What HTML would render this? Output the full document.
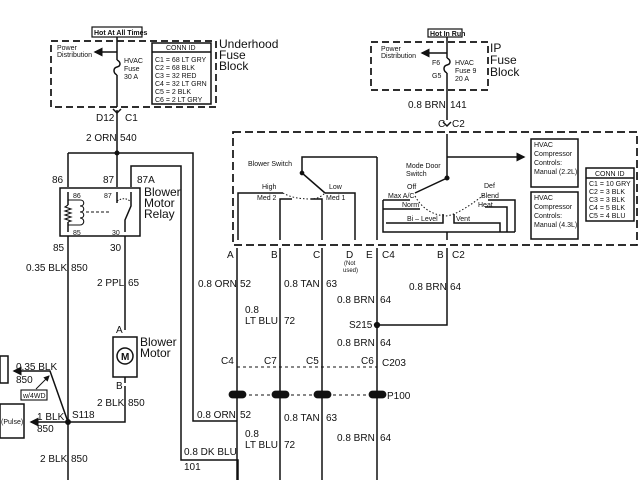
<!DOCTYPE html>
<html><head><meta charset="utf-8"><style>
html,body{margin:0;padding:0;background:#fff;}
svg{display:block;}
text{font-family:"Liberation Sans",sans-serif;fill:#111;}
.s{font-size:7px;}
.m{font-size:10px;}
.l{font-size:12px;}
</style></head><body>
<svg width="640" height="480" viewBox="0 0 640 480" xmlns="http://www.w3.org/2000/svg">
<defs>
<marker id="ar" markerWidth="6" markerHeight="6" refX="5" refY="3" orient="auto"><path d="M0,0 L6,3 L0,6 z" fill="#111"/></marker>
</defs>
<g stroke="#111" stroke-width="1.5" fill="none">
<rect x="92" y="27" width="50" height="10" stroke-width="1.2"/>
<rect x="51" y="41" width="165" height="66" stroke-dasharray="7,4" stroke-width="1.7"/>
<rect x="152" y="43" width="59" height="61"/>
<line x1="152" y1="52" x2="211" y2="52"/>
<path d="M117,37 V60 M117,75 V107"/>
<path d="M117,60 c4,2 4,6 0,7 c-4,1 -4,6 0,8"/>
<line x1="117" y1="52" x2="95" y2="52" marker-end="url(#ar)"/>
<path d="M117,110 V153"/>
<path d="M113,109 l4,4 l4,-4"/>
<path d="M68,153 H193 V421 H237"/>
<path d="M68,153 V187 M117,153 V187"/>
<circle cx="117" cy="153" r="1.8" fill="#111"/>
<path d="M131,187 V166 H181 V460 H238 V480"/>
<rect x="60" y="188" width="80" height="48"/>
<path d="M68,236 V480 M125,236 V330"/>
<path d="M68,192 V205 M68,222 V232 M117,192 V203 M125,232 V220 L131,206 V192"/>
<path d="M68,205 l-3,2 l6,2 l-6,2 l6,2 l-6,2 l6,2 l-6,2 l6,2 l-3,1" stroke-width="1.1"/>
<path d="M68,200 H80 M68,225 H80 M80,200 c5,0 5,6 0,6 c5,0 5,6 0,6 c5,0 5,6 0,6 c5,0 5,7 0,7" stroke-width="1.1"/>
<path d="M86,212 H110" stroke-dasharray="3,2" stroke-width="1"/>
<path d="M117,201 q8,-5 14,1" stroke-dasharray="1.5,1.5" stroke-width="1"/>
<rect x="113" y="337" width="24" height="40"/>
<circle cx="125" cy="356" r="8"/>
<path d="M125,377 V383"/>
<path d="M125,386 V422 H68"/>
<circle cx="68" cy="422" r="2.2" fill="#111"/>
<path d="M68,422 L50,371 H14" marker-end="url(#ar)"/>
<path d="M68,422 H31" marker-end="url(#ar)"/>
<rect x="0" y="356" width="8" height="27"/>
<rect x="0" y="404" width="24" height="34"/>
<rect x="21" y="390" width="26" height="10" stroke-width="1.1"/>
<line x1="36" y1="389" x2="49" y2="376" marker-end="url(#ar)" stroke-width="1"/>
<rect x="428" y="29" width="34" height="8" stroke-width="1.2"/>
<rect x="371" y="42" width="117" height="48" stroke-dasharray="7,4" stroke-width="1.7"/>
<path d="M447,37 V58 M447,73 V120"/>
<path d="M447,58 c4,2 4,6 0,7 c-4,1 -4,6 0,8"/>
<line x1="447" y1="53" x2="422" y2="53" marker-end="url(#ar)"/>
<path d="M443,122 l4,4 l4,-4"/>
<rect x="233" y="132" width="404" height="113" stroke-dasharray="8,4" stroke-width="1.7"/>
<path d="M447,134 V178 L415,193"/>
<path d="M447,157 H524" marker-end="url(#ar)"/>
<circle cx="447" cy="178" r="1.8" fill="#111"/>
<rect x="531" y="139" width="47" height="48"/>
<rect x="531" y="192" width="47" height="47"/>
<rect x="586" y="168" width="48" height="53"/>
<line x1="586" y1="178" x2="634" y2="178"/>
<path d="M377,157 H302 V173 L325,193"/>
<circle cx="302" cy="173" r="1.6" fill="#111"/>
<path d="M377,157 V240 M283,193 H238 V240 M280,240 V199 H292 M322,240 V199 H311 M325,193 H355 V240"/>
<path d="M283,193 q10,6 28,6 q8,0 14,-6" stroke-dasharray="1.5,2" stroke-width="1"/>
<path d="M383,209 H420 M383,200 H410 M383,200 V232 H515 M386,223 H443 V214 M454,214 V223 H500 V232 M488,200 H515 V232 M485,207 H507 V232 M447,232 V240"/>
<path d="M415,196 q10,18 30,20 q12,0 40,-22" stroke-dasharray="1.5,2" stroke-width="1"/>
<path d="M237,248 V480 M280,248 V480 M322,248 V480 M377,248 V480 M447,248 V325 H377"/>
<circle cx="377" cy="325" r="2.4" fill="#111"/>
<path d="M237,367 H377 M237,395 H377" stroke-dasharray="3,3" stroke-width="1"/>
</g>
<g fill="#111" stroke="#111" stroke-width="0.8">
<rect x="229" y="391" width="17" height="7" rx="3.5"/>
<rect x="272" y="391" width="17" height="7" rx="3.5"/>
<rect x="314" y="391" width="17" height="7" rx="3.5"/>
<rect x="369" y="391" width="17" height="7" rx="3.5"/>
</g>
<g>
<text x="94" y="35" class="s" font-weight="bold">Hot At All Times</text>
<text x="57" y="50" class="s">Power</text><text x="57" y="57" class="s">Distribution</text>
<text x="124" y="63" class="s">HVAC</text><text x="124" y="71" class="s">Fuse</text><text x="124" y="79" class="s">30 A</text>
<text x="166" y="50" class="s">CONN ID</text>
<text x="155" y="62" class="s">C1 = 68 LT GRY</text><text x="155" y="70" class="s">C2 = 68 BLK</text>
<text x="155" y="78" class="s">C3 = 32 RED</text><text x="155" y="86" class="s">C4 = 32 LT GRN</text>
<text x="155" y="94" class="s">C5 = 2 BLK</text><text x="155" y="102" class="s">C6 = 2 LT GRY</text>
<text x="219" y="48" class="l">Underhood</text><text x="219" y="59" class="l">Fuse</text><text x="219" y="70" class="l">Block</text>
<text x="96" y="121" class="m">D12</text><text x="125" y="121" class="m">C1</text>
<text x="86" y="141" class="m">2 ORN</text><text x="120" y="141" class="m">540</text>
<text x="52" y="183" class="m">86</text><text x="103" y="183" class="m">87</text><text x="137" y="183" class="m">87A</text>
<text x="144" y="196" class="l">Blower</text><text x="144" y="207" class="l">Motor</text><text x="144" y="218" class="l">Relay</text>
<text x="73" y="198" class="s">86</text><text x="104" y="198" class="s">87</text>
<text x="73" y="235" class="s">85</text><text x="112" y="235" class="s">30</text>
<text x="53" y="251" class="m">85</text><text x="110" y="251" class="m">30</text>
<text x="26" y="271" class="m">0.35 BLK</text><text x="71" y="271" class="m">850</text>
<text x="97" y="286" class="m">2 PPL</text><text x="128" y="286" class="m">65</text>
<text x="116" y="333" class="m">A</text>
<text x="121" y="360" class="m" font-weight="bold">M</text>
<text x="140" y="346" class="l">Blower</text><text x="140" y="357" class="l">Motor</text>
<text x="116" y="389" class="m">B</text>
<text x="97" y="406" class="m">2 BLK</text><text x="128" y="406" class="m">850</text>
<text x="16" y="370" class="m">0.35 BLK</text><text x="16" y="383" class="m">850</text>
<text x="23" y="398" class="s">w/4WD</text>
<text x="1" y="424" class="s">(Pulse)</text>
<text x="37" y="420" class="m">1 BLK</text><text x="37" y="432" class="m">850</text>
<text x="72" y="418" class="m">S118</text>
<text x="40" y="462" class="m">2 BLK</text><text x="71" y="462" class="m">850</text>
<text x="197" y="418" class="m">0.8 ORN</text><text x="240" y="418" class="m">52</text>
<text x="184" y="455" class="m">0.8 DK BLU</text><text x="184" y="470" class="m">101</text>
<text x="430" y="36" class="s" font-weight="bold">Hot In Run</text>
<text x="381" y="51" class="s">Power</text><text x="381" y="58" class="s">Distribution</text>
<text x="432" y="65" class="s">F6</text><text x="432" y="78" class="s">G5</text>
<text x="455" y="65" class="s">HVAC</text><text x="455" y="73" class="s">Fuse 9</text><text x="455" y="81" class="s">20 A</text>
<text x="490" y="52" class="l">IP</text><text x="490" y="64" class="l">Fuse</text><text x="490" y="76" class="l">Block</text>
<text x="408" y="108" class="m">0.8 BRN</text><text x="450" y="108" class="m">141</text>
<text x="438" y="127" class="m">C</text><text x="452" y="127" class="m">C2</text>
<text x="248" y="166" class="s">Blower Switch</text>
<text x="262" y="189" class="s">High</text><text x="329" y="189" class="s">Low</text>
<text x="257" y="200" class="s">Med 2</text><text x="326" y="200" class="s">Med 1</text>
<text x="406" y="168" class="s">Mode Door</text><text x="406" y="176" class="s">Switch</text>
<text x="407" y="189" class="s">Off</text><text x="388" y="198" class="s">Max A/C</text>
<text x="402" y="207" class="s">Norm</text><text x="407" y="221" class="s">Bi – Level</text>
<text x="456" y="221" class="s">Vent</text><text x="484" y="188" class="s">Def</text>
<text x="481" y="198" class="s">Blend</text><text x="478" y="207" class="s">Heat</text>
<text x="534" y="147" class="s">HVAC</text><text x="534" y="156" class="s">Compressor</text><text x="534" y="165" class="s">Controls:</text><text x="534" y="174" class="s">Manual (2.2L)</text>
<text x="534" y="200" class="s">HVAC</text><text x="534" y="209" class="s">Compressor</text><text x="534" y="218" class="s">Controls:</text><text x="534" y="227" class="s">Manual (4.3L)</text>
<text x="595" y="176" class="s">CONN ID</text>
<text x="589" y="186" class="s">C1 = 10 GRY</text><text x="589" y="194" class="s">C2 = 3 BLK</text>
<text x="589" y="202" class="s">C3 = 3 BLK</text><text x="589" y="210" class="s">C4 = 5 BLK</text><text x="589" y="218" class="s">C5 = 4 BLU</text>
<text x="227" y="258" class="m">A</text><text x="271" y="258" class="m">B</text><text x="313" y="258" class="m">C</text>
<text x="346" y="258" class="m">D</text><text x="366" y="258" class="m">E</text><text x="382" y="258" class="m">C4</text>
<text x="344" y="265" style="font-size:6px">(Not</text><text x="343" y="272" style="font-size:6px">used)</text>
<text x="437" y="258" class="m">B</text><text x="452" y="258" class="m">C2</text>
<text x="198" y="287" class="m">0.8 ORN</text><text x="240" y="287" class="m">52</text>
<text x="284" y="287" class="m">0.8 TAN</text><text x="326" y="287" class="m">63</text>
<text x="245" y="313" class="m">0.8</text><text x="245" y="324" class="m">LT BLU</text><text x="284" y="324" class="m">72</text>
<text x="337" y="303" class="m">0.8 BRN</text><text x="380" y="303" class="m">64</text>
<text x="409" y="290" class="m">0.8 BRN</text><text x="450" y="290" class="m">64</text>
<text x="349" y="328" class="m">S215</text>
<text x="337" y="346" class="m">0.8 BRN</text><text x="380" y="346" class="m">64</text>
<text x="221" y="364" class="m">C4</text><text x="264" y="364" class="m">C7</text><text x="306" y="364" class="m">C5</text>
<text x="361" y="364" class="m">C6</text><text x="382" y="366" class="m">C203</text>
<text x="387" y="399" class="m">P100</text>
<text x="284" y="421" class="m">0.8 TAN</text><text x="326" y="421" class="m">63</text>
<text x="245" y="437" class="m">0.8</text><text x="245" y="448" class="m">LT BLU</text><text x="284" y="448" class="m">72</text>
<text x="337" y="441" class="m">0.8 BRN</text><text x="380" y="441" class="m">64</text>
</g>
</svg>
</body></html>
